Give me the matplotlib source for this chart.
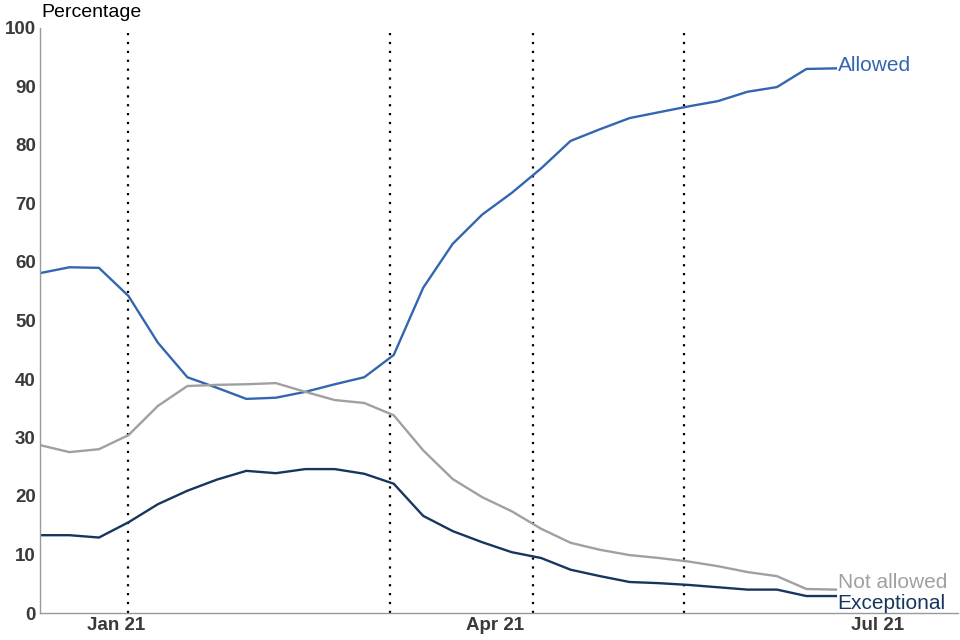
import matplotlib
matplotlib.use("Agg")
import matplotlib.pyplot as plt
import matplotlib.dates as mdates
import numpy as np
import pandas as pd

# weekly data, week commencing (Mondays)
weeks = pd.date_range("2020-12-14", periods=28, freq="7D")

allowed = [58.1, 59.1, 59.0, 54.2, 46.2, 40.3, 38.5, 36.6, 36.8, 37.8,
           39.1, 40.3, 44.1, 55.6, 63.1, 68.1, 71.8, 76.0, 80.7, 82.7,
           84.6, 85.6, 86.6, 87.5, 89.1, 89.9, 93.0, 93.1]
not_allowed = [28.7, 27.5, 28.0, 30.4, 35.4, 38.8, 39.0, 39.1, 39.3, 37.8,
               36.4, 35.9, 33.8, 27.8, 22.9, 19.8, 17.4, 14.4, 12.0, 10.8,
               9.9, 9.4, 8.8, 8.0, 7.0, 6.3, 4.1, 4.0]
exceptional = [13.3, 13.3, 12.9, 15.5, 18.6, 20.9, 22.8, 24.3, 23.9, 24.6,
               24.6, 23.8, 22.1, 16.6, 14.0, 12.1, 10.4, 9.4, 7.4, 6.3,
               5.3, 5.1, 4.8, 4.4, 4.0, 4.0, 2.9, 2.9]

# lockdown / roadmap dates (vertical dotted lines)
events = pd.to_datetime(["2021-01-04", "2021-03-07", "2021-04-10", "2021-05-16"])

c_allowed = '#3366b0'
c_not = '#a0a0a0'
c_exc = '#17365d'

plt.rcParams['font.family'] = ['Liberation Sans', 'DejaVu Sans']

fig = plt.figure(figsize=(9.6, 6.4), dpi=100)
ax = fig.add_axes([40/960, 27/640, 918/960, 585/640])

ax.plot(weeks, allowed, color=c_allowed, lw=1.7)
ax.plot(weeks, not_allowed, color=c_not, lw=1.7)
ax.plot(weeks, exceptional, color=c_exc, lw=1.7)

for d in events:
    ax.axvline(d, color='k', lw=1.6, ls=(0, (1, 3)), zorder=0)

last = weeks[-1] + pd.Timedelta(days=0.4)
ax.text(last, 93.6, 'Allowed', color=c_allowed, fontsize=15, va='center', ha='left')
ax.text(last, 5.2, 'Not allowed', color=c_not, fontsize=15, va='center', ha='left')
ax.text(last, 1.6, 'Exceptional', color=c_exc, fontsize=15, va='center', ha='left')

ax.set_xlim(pd.Timestamp("2020-12-14"), pd.Timestamp("2021-07-20"))
ax.set_ylim(0, 100)
ax.set_yticks(np.arange(0, 101, 10))
ax.set_xticks(pd.to_datetime(["2021-01-01", "2021-04-01", "2021-07-01"]))
ax.xaxis.set_major_formatter(mdates.DateFormatter('%b %y'))

for lbl in ax.get_xticklabels() + ax.get_yticklabels():
    lbl.set_fontweight('bold')
    lbl.set_color('#3a3a3a')
    lbl.set_fontsize(13.5)
ax.tick_params(length=0, pad=3)

for s in ['top', 'right']:
    ax.spines[s].set_visible(False)
for s in ['left', 'bottom']:
    ax.spines[s].set_color('#999999')
    ax.spines[s].set_linewidth(1)

ax.text(0.001, 1.012, 'Percentage', transform=ax.transAxes, fontsize=14,
        ha='left', va='bottom')

fig.savefig('out.png', dpi=100)
